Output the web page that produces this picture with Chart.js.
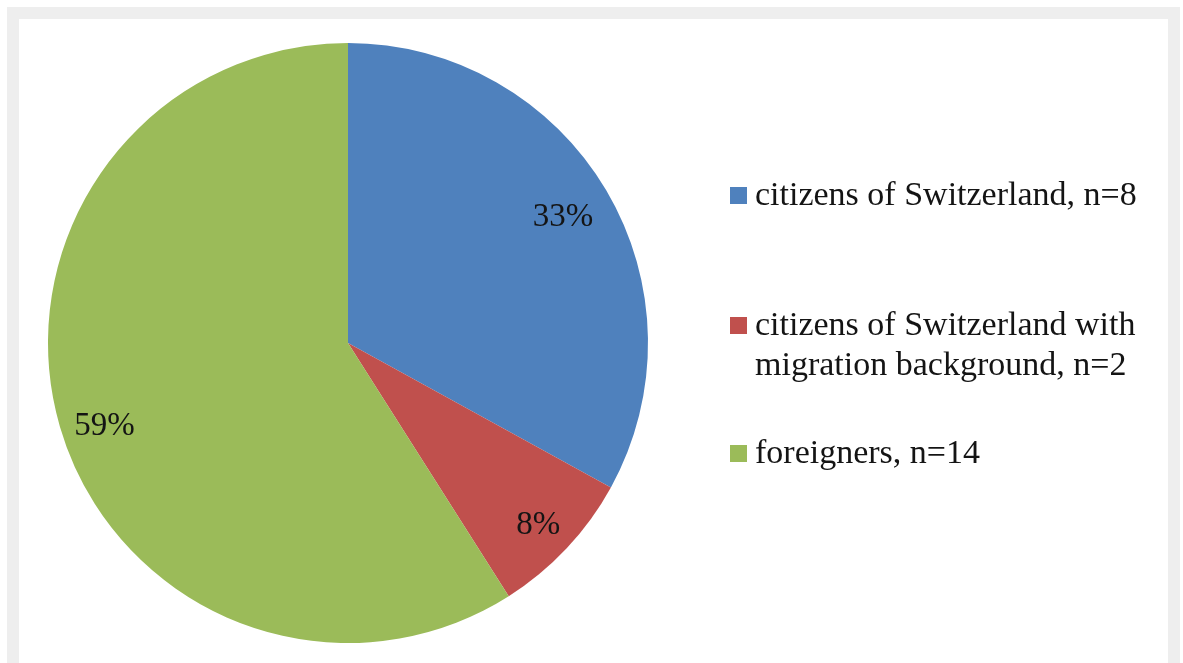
<!DOCTYPE html>
<html>
<head>
<meta charset="utf-8">
<script src="https://cdn.jsdelivr.net/npm/chart.js@4.4.1/dist/chart.umd.min.js"></script>
<style>
  html, body { margin: 0; padding: 0; background: #ffffff; }
  #frame { position: absolute; left: 7px; top: 7px; width: 1173px; height: 700px; background: #eeeeee; }
  #panel { position: absolute; left: 19px; top: 19px; width: 1149px; height: 700px; background: #ffffff; }
  #wrap { position: absolute; left: 0; top: 0; width: 1183px; height: 663px; }
</style>
</head>
<body>
<div id="frame"></div>
<div id="panel"></div>
<div id="wrap"><canvas id="pie" width="1183" height="663"></canvas></div>
<script>
// Share of each group (percent) and group sizes
const groupNames = [
  ['citizens of Switzerland'],
  ['citizens of Switzerland with', 'migration background'],
  ['foreigners']
];
const groupCounts = [8, 2, 14];
const sharePercent = [33, 8, 59];
const sliceColors = ['#4f81bd', '#c0504d', '#9bbb59'];

const FONT = "'Liberation Serif', 'Times New Roman', serif";

// legend lines: last line of each name gets ", n=<count>"
const legendLines = groupNames.map((lines, i) =>
  lines.map((t, j) => j === lines.length - 1 ? t + ', n=' + groupCounts[i] : t));

const sliceLabelPlugin = {
  id: 'sliceLabels',
  afterDatasetsDraw(chart) {
    const ctx = chart.ctx;
    const meta = chart.getDatasetMeta(0);
    const radialFrac = [0.833, 0.87, 0.845];
    const nudgeY = [-2, 0, 9];
    ctx.save();
    ctx.font = '33px ' + FONT;
    ctx.fillStyle = '#141414';
    ctx.textAlign = 'center';
    ctx.textBaseline = 'alphabetic';
    meta.data.forEach((arc, i) => {
      const mid = (arc.startAngle + arc.endAngle) / 2;
      const r = arc.outerRadius * radialFrac[i];
      const x = arc.x + Math.cos(mid) * r;
      const y = arc.y + Math.sin(mid) * r + nudgeY[i];
      ctx.fillText(chart.data.datasets[0].data[i] + '%', x, y + 12);
    });
    ctx.restore();
  }
};

const sideLegendPlugin = {
  id: 'sideLegend',
  afterDraw(chart) {
    const ctx = chart.ctx;
    const colors = chart.data.datasets[0].backgroundColor;
    const firstBaselines = [205, 335, 463];
    const lineGap = 40;
    ctx.save();
    ctx.font = '34px ' + FONT;
    ctx.textAlign = 'left';
    ctx.textBaseline = 'alphabetic';
    legendLines.forEach((lines, i) => {
      const b = firstBaselines[i];
      ctx.fillStyle = colors[i];
      ctx.fillRect(730, b - 18, 17, 17);
      ctx.fillStyle = '#141414';
      lines.forEach((t, j) => ctx.fillText(t, 755, b + j * lineGap));
    });
    ctx.restore();
  }
};

new Chart(document.getElementById('pie'), {
  type: 'pie',
  data: {
    labels: legendLines.map(l => l.join(' ')),
    datasets: [{
      data: sharePercent,
      backgroundColor: sliceColors,
      borderWidth: 0
    }]
  },
  options: {
    responsive: false,
    animation: false,
    layout: { padding: { left: 48, top: 43, right: 535, bottom: 20 } },
    plugins: {
      legend: { display: false },
      tooltip: { enabled: false }
    }
  },
  plugins: [sliceLabelPlugin, sideLegendPlugin]
});
</script>
</body>
</html>
